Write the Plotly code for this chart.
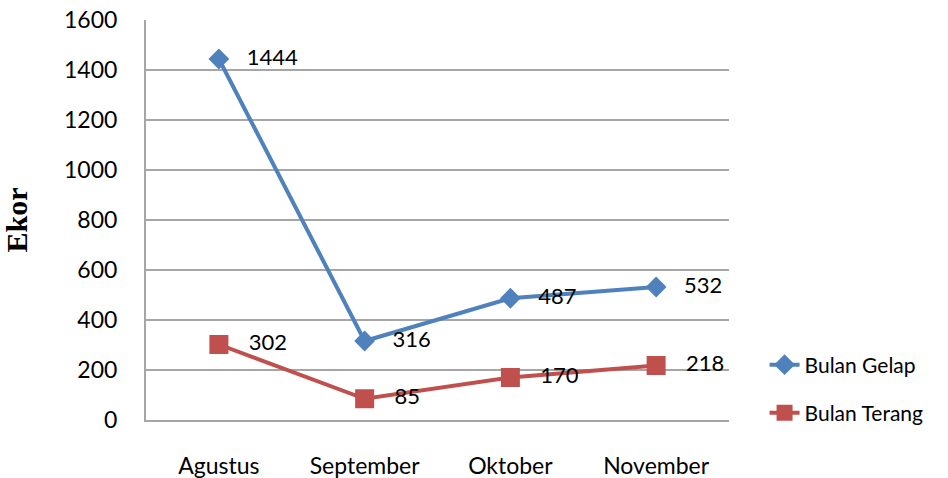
import plotly.graph_objects as go

months = ["Agustus", "September", "Oktober", "November"]
bulan_gelap = [1444, 316, 487, 532]
bulan_terang = [302, 85, 170, 218]
y_ticks = [0, 200, 400, 600, 800, 1000, 1200, 1400, 1600]

BLUE = "#4F81BD"
RED = "#C0504D"
FONT = "Lato"

fig = go.Figure()
fig.add_trace(go.Scatter(
    x=months, y=bulan_gelap, name="Bulan Gelap", mode="lines+markers+text",
    line=dict(color=BLUE, width=4),
    marker=dict(symbol="diamond", size=16, color=BLUE),
    text=["   " + str(v) for v in bulan_gelap], textposition="middle right",
    textfont=dict(family=FONT, size=22, color="#000000"),
    legend="legend",
))
fig.add_trace(go.Scatter(
    x=months, y=bulan_terang, name="Bulan Terang", mode="lines+markers+text",
    line=dict(color=RED, width=4),
    marker=dict(symbol="square", size=19, color=RED),
    text=["   " + str(v) for v in bulan_terang], textposition="middle right",
    textfont=dict(family=FONT, size=22, color="#000000"),
    legend="legend2",
))

fig.update_layout(
    width=948, height=478,
    margin=dict(l=146, r=219, t=20, b=58, autoexpand=False),
    paper_bgcolor="white", plot_bgcolor="white",
    font=dict(family=FONT, size=22, color="#000000"),
    legend=dict(x=1.061, y=0.1375, xanchor="left", yanchor="middle",
                bgcolor="rgba(0,0,0,0)", font=dict(size=21)),
    legend2=dict(x=1.061, y=0.0175, xanchor="left", yanchor="middle",
                 bgcolor="rgba(0,0,0,0)", font=dict(size=21)),
    showlegend=True,
)
fig.update_xaxes(
    type="category", range=[-0.5, 3.5], automargin=False,
    showline=True, linecolor="#a6a6a6", linewidth=2,
    showgrid=False, ticks="", ticklabelstandoff=24,
    tickfont=dict(family=FONT, size=23),
    zeroline=False,
)
fig.update_yaxes(
    range=[0, 1600], tickvals=y_ticks, automargin=False,
    showline=True, linecolor="#a6a6a6", linewidth=2,
    showgrid=True, gridcolor="#a6a6a6", gridwidth=2,
    ticks="", ticklabelstandoff=22,
    tickfont=dict(family=FONT, size=23),
    zeroline=False,
    title=dict(text="<b>Ekor</b>", font=dict(family="Liberation Serif", size=30), standoff=35),
)

fig.write_html(
    "out.html",
    config={"displayModeBar": False},
    post_script="document.body.style.margin='0';document.body.style.padding='0';",
)
